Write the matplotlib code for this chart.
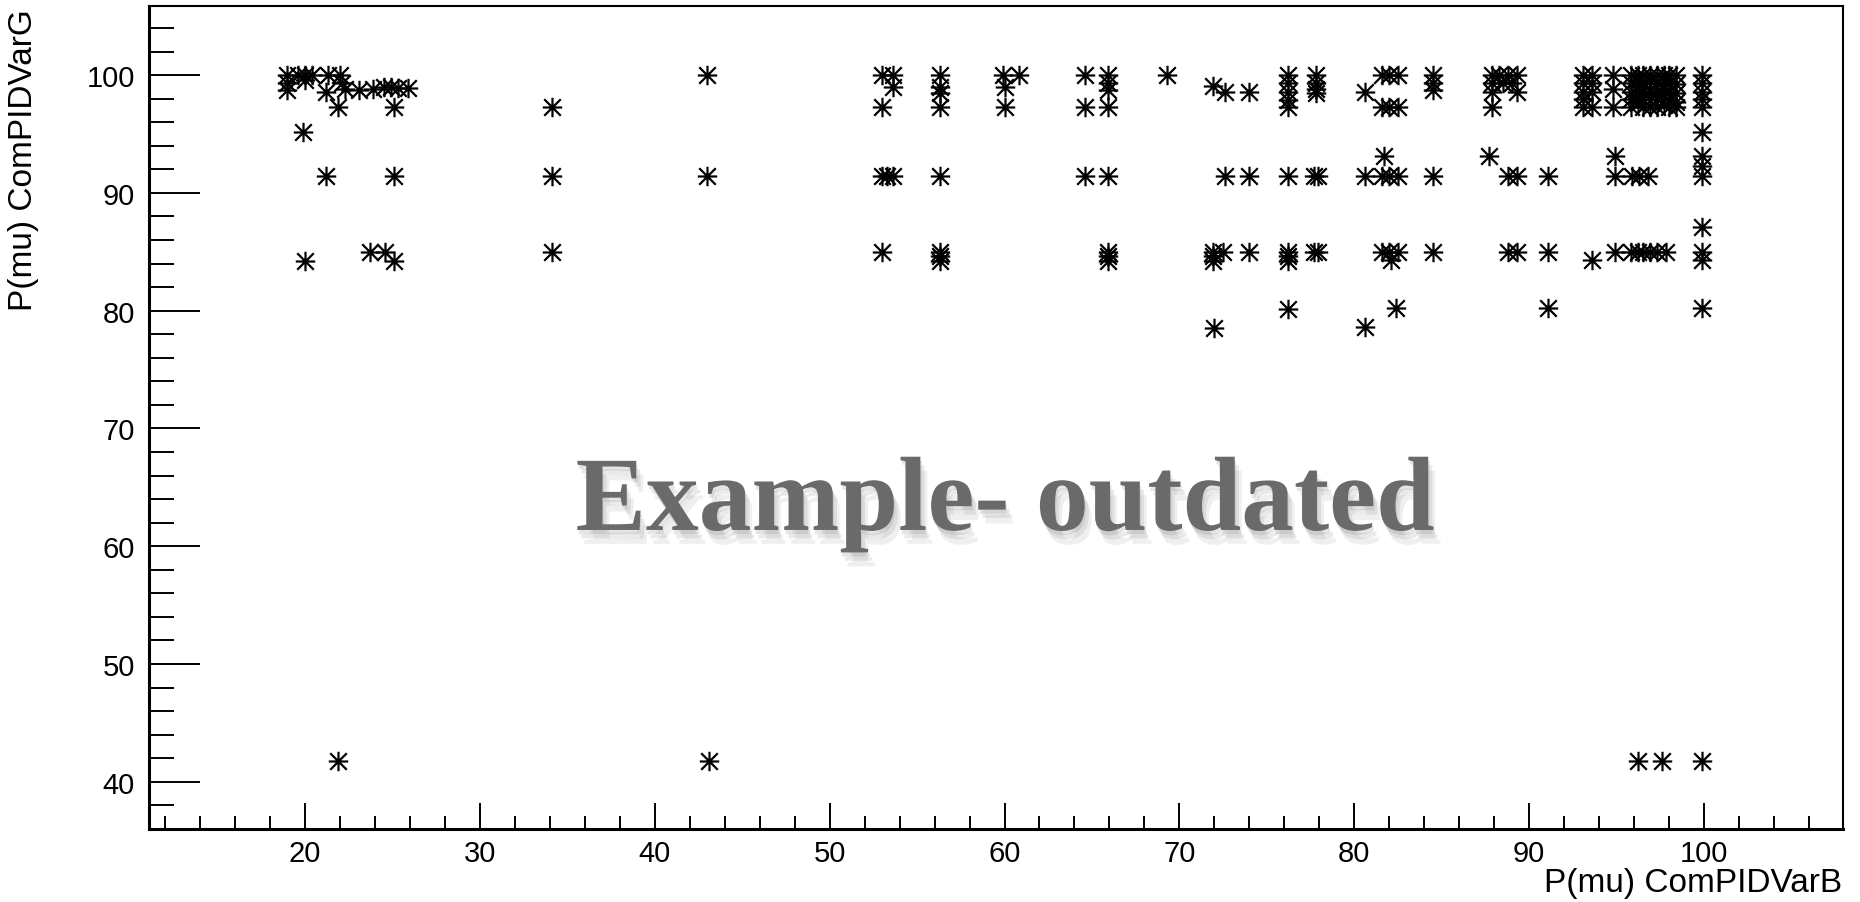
import matplotlib
matplotlib.use("Agg")
import matplotlib.pyplot as plt
import matplotlib.patheffects as pe
from matplotlib.path import Path
from matplotlib.ticker import MultipleLocator

# P(mu) ComPIDVarB vs P(mu) ComPIDVarG
var_b = [
    # 19 - 26
    19.0, 19.6, 20.0, 20.4, 21.3, 22.0,
    19.0, 20.0, 22.1,
    19.0, 21.2, 22.3, 23.1, 23.9, 24.5, 24.9, 25.3, 25.9,
    21.9, 25.1, 19.9, 21.2, 25.1, 23.7, 24.6, 20.0, 25.1, 21.9,
    # 34, 43
    34.1, 34.1, 34.1, 43.0, 43.0, 43.1,
    # 53
    53.0, 53.6, 53.6, 53.0, 53.0, 53.3, 53.6, 53.0,
    # 56
    56.3, 56.3, 56.3, 56.3, 56.3, 56.3, 56.3, 56.3,
    # 60
    59.9, 60.8, 60.0, 60.0,
    # 64 - 66
    64.6, 65.9, 65.9, 65.9, 64.6, 65.9, 64.6, 65.9, 65.9, 65.9, 65.9,
    69.3,
    # 72 - 74
    71.9, 72.6, 74.0, 72.6, 74.0, 71.9, 72.5, 74.0, 71.9, 71.9, 72.0,
    # 76
    76.2, 76.2, 76.2, 76.2, 76.2, 76.2, 76.2, 76.2, 76.2, 76.2,
    # 78
    77.8, 77.8, 77.8, 77.8, 77.7, 77.9, 77.7, 77.9,
    # 80 - 82
    80.6, 80.6, 80.6,
    81.6, 82.0, 82.5, 81.6, 82.0, 82.5, 81.7, 81.6, 82.0, 82.5,
    81.6, 82.0, 82.5, 82.1, 82.4,
    # 84.5
    84.5, 84.5, 84.5, 84.5, 84.5,
    # 88 - 89
    87.9, 88.3, 88.8, 89.3, 87.9, 88.5, 89.0, 87.9, 89.3, 87.9, 87.7,
    88.8, 89.3, 88.8, 89.3,
    # 91
    91.1, 91.1, 91.1,
    # 93 - 98 block
    93.1, 93.1, 93.1, 93.1, 93.1,
    93.6, 93.6, 93.6, 93.6,
    94.8, 94.8, 94.8,
    95.8, 95.8, 95.8, 95.8, 95.8,
    96.2, 96.2, 96.2, 96.2, 96.2,
    96.5, 96.5, 96.5, 96.5, 96.5,
    96.9, 96.9, 96.9, 96.9, 96.9,
    97.3, 97.3, 97.3, 97.3, 97.3,
    97.7, 97.7, 97.7, 97.7, 97.7,
    98.0, 98.0, 98.0, 98.0, 98.0,
    98.4, 98.4, 98.4, 98.4, 98.4,
    94.9, 94.9, 95.9, 96.3, 96.8,
    93.6, 94.9, 95.8, 96.2, 96.5, 96.9, 97.3, 97.8,
    96.2, 97.6,
    # 100
    99.9, 99.9, 99.9, 99.9, 99.9, 99.9, 99.9, 99.9, 99.9, 99.9,
    99.9, 99.9, 99.9, 99.9,
]

var_g = [
    100, 100, 100, 100, 100, 100,
    99.3, 99.6, 99.3,
    98.7, 98.6, 98.8, 98.7, 98.8, 99.0, 99.0, 98.9, 98.9,
    97.3, 97.3, 95.2, 91.4, 91.4, 85.0, 85.0, 84.2, 84.2, 41.8,
    97.3, 91.4, 85.0, 100, 91.4, 41.8,
    100, 100, 99.0, 97.3, 91.4, 91.4, 91.4, 85.0,
    100, 99.0, 98.5, 97.3, 91.4, 85.0, 84.6, 84.2,
    100, 100, 99.0, 97.3,
    100, 100, 99.3, 98.7, 97.3, 97.3, 91.4, 91.4, 85.0, 84.6, 84.2,
    100,
    99.1, 98.6, 98.6, 91.4, 91.4, 85.0, 85.0, 85.0, 84.6, 84.2, 78.5,
    100, 99.3, 98.6, 97.9, 97.3, 91.4, 85.0, 84.6, 84.2, 80.1,
    100, 99.3, 98.8, 98.5, 91.4, 91.4, 85.0, 85.0,
    98.6, 91.4, 78.6,
    100, 100, 100, 97.3, 97.3, 97.3, 93.1, 91.4, 91.4, 91.4,
    85.0, 85.0, 85.0, 84.3, 80.2,
    100, 99.3, 98.7, 91.4, 85.0,
    100, 100, 100, 100, 99.3, 99.3, 99.3, 98.6, 98.6, 97.3, 93.1,
    91.4, 91.4, 85.0, 85.0,
    91.4, 85.0, 80.2,
    100, 99.3, 98.6, 98.0, 97.3,
    100, 99.3, 98.6, 97.3,
    100, 98.8, 97.3,
    100, 99.3, 98.6, 98.0, 97.3,
    100, 99.6, 99.0, 98.3, 97.6,
    100, 99.3, 98.6, 98.0, 97.3,
    100, 99.5, 98.8, 98.2, 97.3,
    100, 99.3, 98.6, 98.0, 97.3,
    100, 99.6, 98.9, 98.3, 97.5,
    100, 99.3, 98.6, 97.9, 97.3,
    100, 99.2, 98.5, 97.7, 97.3,
    93.1, 91.4, 91.4, 91.4, 91.4,
    84.3, 85.0, 85.0, 85.0, 85.0, 85.0, 85.0, 85.0,
    41.8, 41.8,
    100, 99.3, 98.6, 98.0, 97.3, 95.2, 93.1, 92.3, 91.4, 87.1,
    85.0, 84.3, 80.2, 41.8,
]

x_title = "P(mu) ComPIDVarB"
y_title = "P(mu) ComPIDVarG"
watermark = "Example- outdated"

# ROOT style star marker (kStar): + and x overlaid
d = 0.85
star = Path(
    [(-1, 0), (1, 0), (0, -1), (0, 1), (-d, -d), (d, d), (-d, d), (d, -d)],
    [Path.MOVETO, Path.LINETO] * 4,
)

fig = plt.figure(figsize=(18.6, 9.03), dpi=100)
ax = fig.add_axes([0.0801, 0.0809, 0.9108, 0.9113])

ax.plot(var_b, var_g, linestyle="none", marker=star, markersize=14,
        markerfacecolor="none", markeredgecolor="black", markeredgewidth=1.6)

ax.set_xlim(11.08, 107.95)
ax.set_ylim(36.0, 105.86)

ax.xaxis.set_major_locator(MultipleLocator(10))
ax.xaxis.set_minor_locator(MultipleLocator(2))
ax.yaxis.set_major_locator(MultipleLocator(10))
ax.yaxis.set_minor_locator(MultipleLocator(2))

ax.tick_params(axis="x", which="major", direction="in", length=18.5, width=1.4, pad=7)
ax.tick_params(axis="x", which="minor", direction="in", length=9.5, width=1.4)
ax.tick_params(axis="y", which="major", direction="in", length=37, width=1.4, pad=10)
ax.tick_params(axis="y", which="minor", direction="in", length=18, width=1.4)
for lab in ax.get_xticklabels() + ax.get_yticklabels():
    lab.set_family(["Liberation Sans", "DejaVu Sans"])
    lab.set_fontsize(21)

for side in ["left", "bottom"]:
    ax.spines[side].set_linewidth(2.2)
for side in ["top", "right"]:
    ax.spines[side].set_linewidth(1.5)

fig.text(0.9903, 0.0122, x_title, ha="right", va="baseline", fontsize=24,
         family=["Liberation Sans", "DejaVu Sans"])
fig.text(24 / 1860, 1 - 9 / 903, y_title, ha="center", va="top", rotation=90,
         fontsize=24, family=["Liberation Sans", "DejaVu Sans"])

fig.text(0.5403, 0.412, watermark, ha="center", va="baseline", fontsize=76,
         fontweight="bold", family=["Liberation Serif", "DejaVu Serif"],
         color="#6a6a6a",
         path_effects=[pe.SimplePatchShadow(offset=(5, -10), shadow_rgbFace="#999999", alpha=0.15),
                       pe.SimplePatchShadow(offset=(3, -6), shadow_rgbFace="#999999", alpha=0.2),
                       pe.SimplePatchShadow(offset=(1, -3), shadow_rgbFace="#999999", alpha=0.25),
                       pe.Normal()])

fig.savefig("out.png", dpi=100)
